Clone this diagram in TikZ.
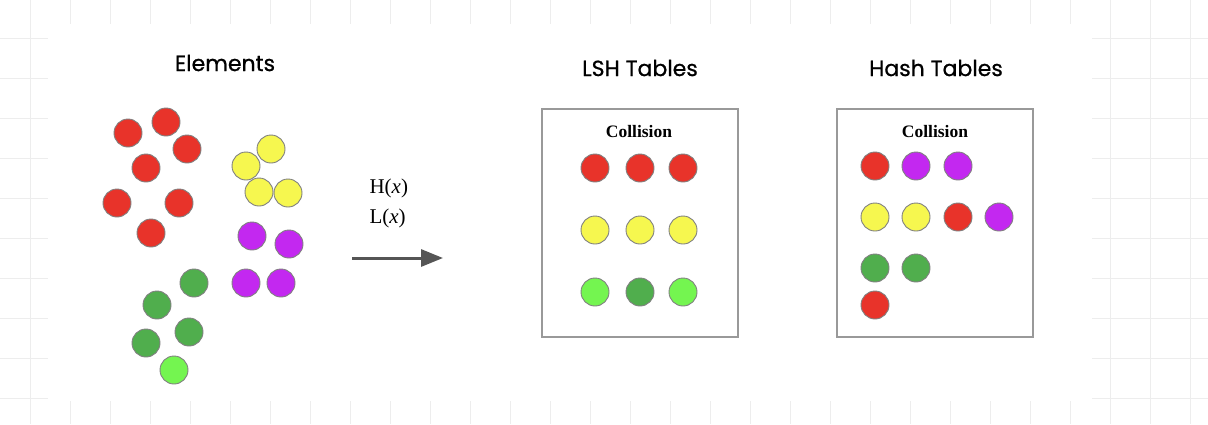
\documentclass[tikz,border=0pt]{standalone}
\usepackage{fontspec}
\usepackage{xcolor}
\usepackage{tikz}
\newfontfamily\headfont{Poppins}[FakeBold=0.7]
\newfontfamily\labelfont{Liberation Serif}
\usetikzlibrary{arrows.meta,positioning}

\definecolor{ballred}{HTML}{E8332A}
\definecolor{ballyellow}{HTML}{F6F74F}
\definecolor{ballpurple}{HTML}{C328F0}
\definecolor{ballgreen}{HTML}{50AE4D}
\definecolor{balllime}{HTML}{74F550}
\definecolor{gridgray}{HTML}{EDEDED}
\definecolor{arrowgray}{HTML}{555555}

\begin{document}
\begin{tikzpicture}[x=1pt, y=-1pt,
    ball/.style={circle, draw=black!50, line width=0.9pt, minimum size=28pt, inner sep=0pt},
    heading/.style={font=\headfont\fontsize{22}{26}\selectfont},
    tablebox/.style={rectangle, draw=black!40, line width=1.5pt, minimum width=196pt, minimum height=228pt, inner sep=0pt},
    collision/.style={font=\labelfont\bfseries\fontsize{17.5}{20}\selectfont},
    hashfn/.style={font=\labelfont\fontsize{21}{25}\selectfont, anchor=west},
    arrow/.style={-{Triangle[length=22pt, width=17pt]}, line width=3pt, arrowgray}
]
    \useasboundingbox (0,0) rectangle (1208,424);

    % Background grid
    \foreach \gx in {30,70,...,1190} \draw[gridgray, line width=0.8pt] (\gx,0) -- (\gx,424);
    \foreach \gy in {38,78,...,398} \draw[gridgray, line width=0.8pt] (0,\gy) -- (1208,\gy);
    \fill[white] (48,24) rectangle (1092,401);

    % Elements
    \node[heading] (elemtitle) at (225,63) {Elements};
    \foreach \px/\py/\c [count=\i] in {
        128/133/ballred, 166/122/ballred, 187/149/ballred, 146/168/ballred,
        117/203/ballred, 179/203/ballred, 151/233/ballred,
        271/149/ballyellow, 246/166/ballyellow, 259/192/ballyellow, 288/193/ballyellow,
        252/236/ballpurple, 289/244/ballpurple, 246/283/ballpurple, 281/283/ballpurple,
        194/283/ballgreen, 157/305/ballgreen, 189/332/ballgreen, 146/343/ballgreen,
        174/370/balllime}
        \node[ball, fill=\c] (elem\i) at (\px,\py) {};

    % Hash functions
    \node[hashfn] (hfun) at (366,188) {H(\textit{x})};
    \node[hashfn] (lfun) at (366,218) {L(\textit{x})};
    \coordinate (arrowstart) at (352,258);
    \coordinate (arrowend) at (443,258);
    \draw[arrow] (arrowstart) -- (arrowend);

    % LSH tables
    \node[heading] (lshtitle) at (640,68) {LSH Tables};
    \node[tablebox] (lshbox) at (640,223) {};
    \node[collision] (lshcoll) at (639,132) {Collision};
    \foreach \px/\py/\c [count=\i] in {
        595/168/ballred, 640/168/ballred, 683/168/ballred,
        595/230/ballyellow, 640/230/ballyellow, 683/230/ballyellow,
        595/292/balllime, 640/292/ballgreen, 683/292/balllime}
        \node[ball, fill=\c] (lsh\i) at (\px,\py) {};

    % Hash tables
    \node[heading] (hashtitle) at (936,68) {Hash Tables};
    \node[tablebox] (hashbox) at (935,223) {};
    \node[collision] (hashcoll) at (935,132) {Collision};
    \foreach \px/\py/\c [count=\i] in {
        875/166/ballred, 916/166/ballpurple, 958/166/ballpurple,
        875/217/ballyellow, 916/217/ballyellow, 958/217/ballred, 999/217/ballpurple,
        875/268/ballgreen, 916/268/ballgreen,
        875/305/ballred}
        \node[ball, fill=\c] (hash\i) at (\px,\py) {};
\end{tikzpicture}
\end{document}
